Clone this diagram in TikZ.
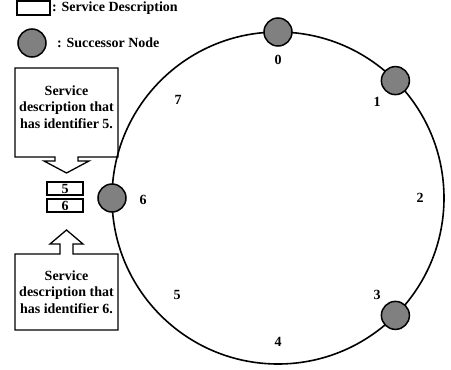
\documentclass[tikz,border=0pt]{standalone}
\usepackage{fontspec}
\setmainfont{Liberation Serif}
\usepackage{tikz}
\usetikzlibrary{positioning}

\begin{document}
\begin{tikzpicture}[x=1pt,y=-1pt,
    font=\bfseries\fontsize{14}{16.5}\selectfont,
    succ/.style={circle,draw,line width=1.5pt,fill=black!50,minimum size=28pt,inner sep=0pt},
    idbox/.style={draw,line width=1.3pt,minimum width=36pt,minimum height=13pt,inner sep=0pt,font=\bfseries\fontsize{14}{14}\selectfont},
    lbl/.style={inner sep=0pt}]
                \useasboundingbox (0,0) rectangle (451,370);
                % Legend
                \draw[line width=1.3pt] (17,1) rectangle (50,15);
                \node[lbl,anchor=west] (legdesc) at (52,8) {: Service Description};
                \node[succ] (legsucc) at (32,43) {};
                \node[lbl,anchor=west] (legnode) at (57,43) {: Successor Node};
                % Ring
                \draw[line width=1.6pt] (278,198) circle (166);
                \node[succ] (n0) at (278,32) {};
                \node[succ] (n1) at (395.4,80.6) {};
                \node[succ] (n3) at (395.4,315.4) {};
                \node[succ] (n6) at (112,198) {};
                \node[lbl] (l0) at (278,60) {0};
                \node[lbl] (l1) at (377,102) {1};
                \node[lbl] (l2) at (420,198) {2};
                \node[lbl] (l3) at (377,295) {3};
                \node[lbl] (l4) at (278,342) {4};
                \node[lbl] (l5) at (177,295) {5};
                \node[lbl] (l6) at (143,200) {6};
                \node[lbl] (l7) at (178,100) {7};
                % Service description with identifier 5
                \draw[line width=1.3pt] (15,68) -- (118,68) -- (118,157) -- (78,157) -- (78,161)
                    -- (89,161) -- (66.5,173) -- (44,161) -- (55,161) -- (55,157) -- (15,157) -- cycle;
                \node[align=center] (desc5) at (66.5,107) {Service\\description that\\has identifier 5.};
                \node[idbox] (b5) at (65,188.5) {5};
                \node[idbox] (b6) at (65,205.5) {6};
                % Service description with identifier 6
                \draw[line width=1.3pt] (15,254) -- (60,254) -- (60,244) -- (50,244) -- (66.5,230)
                    -- (83,244) -- (73,244) -- (73,254) -- (118,254) -- (118,330) -- (15,330) -- cycle;
                \node[align=center] (desc6) at (66.5,292) {Service\\description that\\has identifier 6.};
            \end{tikzpicture}
\end{document}
